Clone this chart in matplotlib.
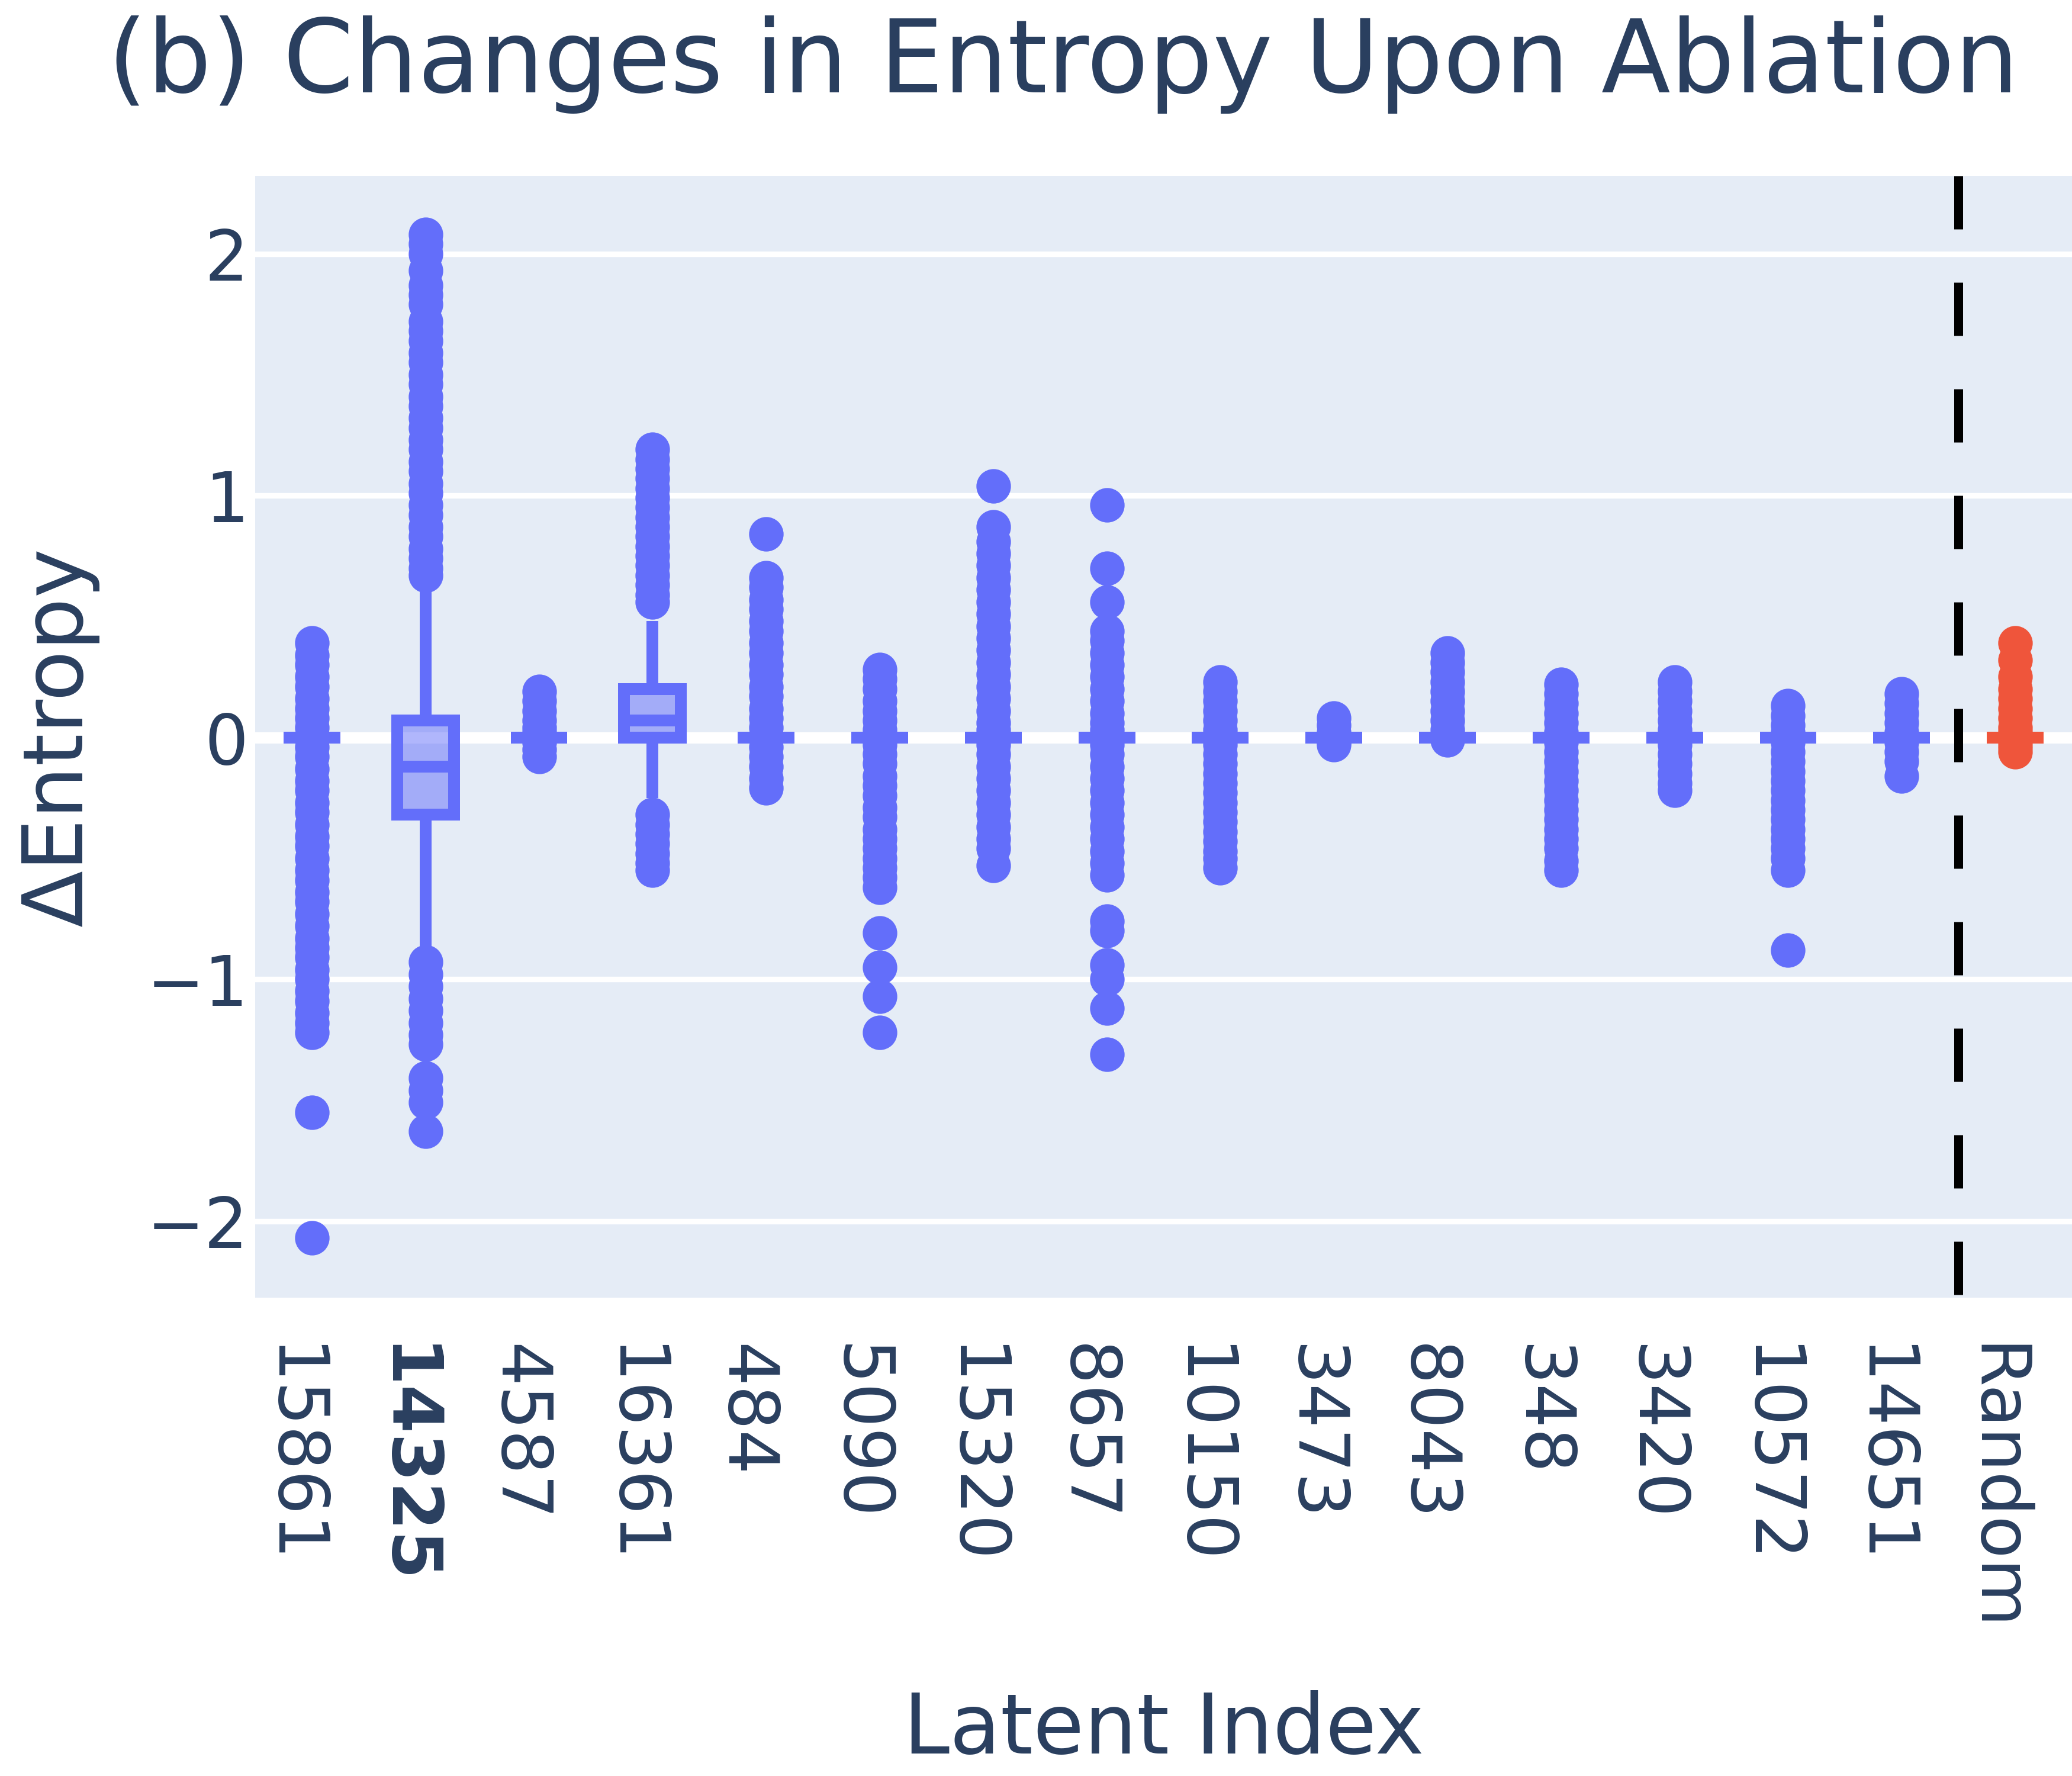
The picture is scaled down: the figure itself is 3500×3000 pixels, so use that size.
import matplotlib
matplotlib.use("Agg")
import matplotlib.pyplot as plt
import matplotlib.transforms as mtransforms
import numpy as np

BLUE, RED = "#636efa", "#ef553b"
BG, INK = "#e5ecf6", "#2a3f5f"
plt.rcParams.update({"font.family": ["DejaVu Sans"], "text.color": INK,
                     "axes.labelcolor": INK, "xtick.color": INK, "ytick.color": INK})

LABELS = ["15861", "14325", "4587", "16361", "484", "5090", "15320", "8657",
          "10150", "3473", "8043", "348", "3420", "10572", "14651", "Random"]

# box summaries (most boxes collapse onto 0)
MED     = [0, -0.12, 0, 0.07, 0, 0, 0, 0, 0, 0, 0, 0, 0, 0, 0, 0]
Q1      = [0, -0.32, 0, 0.00, 0, 0, 0, 0, 0, 0, 0, 0, 0, 0, 0, 0]
Q3      = [0, 0.07, 0, 0.20, 0, 0, 0, 0, 0, 0, 0, 0, 0, 0, 0, 0]
WHIS_LO = [0, -0.88, 0, -0.25, 0, 0, 0, 0, 0, 0, 0, 0, 0, 0, 0, 0]
WHIS_HI = [0, 0.62, 0, 0.48, 0, 0, 0, 0, 0, 0, 0, 0, 0, 0, 0, 0]

# outlier points per latent
OUT_15861 = [0.39, 0.34, 0.30, 0.25, 0.21, 0.16, 0.12, 0.08, 0.04, -0.04, -0.08,
             -0.13, -0.18, -0.22, -0.27, -0.31, -0.36, -0.41, -0.45, -0.50, -0.55,
             -0.59, -0.64, -0.68, -0.73, -0.78, -0.83, -0.87, -0.91, -0.96, -1.00,
             -1.05, -1.09, -1.14, -1.18, -1.22, -1.55, -2.07]
OUT_14325 = [2.08, 2.04, 2.00, 1.93, 1.87, 1.83, 1.79, 1.72, 1.68, 1.64, 1.59,
             1.55, 1.50, 1.46, 1.41, 1.37, 1.32, 1.28, 1.23, 1.19, 1.14, 1.10,
             1.05, 1.01, 0.96, 0.92, 0.87, 0.83, 0.78, 0.74, 0.70, 0.67,
             -0.93, -0.98, -1.03, -1.08, -1.13, -1.18, -1.23, -1.27, -1.41,
             -1.46, -1.51, -1.63]
OUT_4587 = [0.19, 0.15, 0.11, 0.07, 0.04, 0.02, -0.02, -0.05, -0.08]
OUT_16361 = [1.19, 1.15, 1.11, 1.07, 1.03, 0.99, 0.95, 0.91, 0.87, 0.83, 0.79,
             0.75, 0.71, 0.67, 0.63, 0.59, 0.56, -0.32, -0.36, -0.40, -0.44,
             -0.48, -0.52, -0.55]
OUT_484 = [0.84, 0.66, 0.62, 0.57, 0.53, 0.48, 0.44, 0.39, 0.35, 0.30, 0.26,
           0.21, 0.17, 0.12, 0.08, 0.04, -0.04, -0.08, -0.12, -0.17, -0.21]
OUT_5090 = [0.28, 0.24, 0.20, 0.15, 0.11, 0.07, 0.03, -0.03, -0.07, -0.11, -0.16,
            -0.20, -0.24, -0.29, -0.33, -0.38, -0.42, -0.46, -0.50, -0.54, -0.58,
            -0.62, -0.81, -0.95, -1.07, -1.22]
OUT_15320 = [1.04, 0.87, 0.81, 0.76, 0.71, 0.66, 0.61, 0.56, 0.51, 0.46, 0.41,
             0.36, 0.31, 0.26, 0.21, 0.16, 0.11, 0.06, 0.03, -0.03, -0.07, -0.12,
             -0.17, -0.22, -0.27, -0.32, -0.37, -0.42, -0.46, -0.53]
OUT_8657 = [0.96, 0.70, 0.56, 0.44, 0.40, 0.35, 0.30, 0.25, 0.20, 0.15, 0.10,
            0.06, 0.03, -0.03, -0.07, -0.12, -0.17, -0.22, -0.27, -0.32, -0.37,
            -0.42, -0.47, -0.52, -0.57, -0.76, -0.80, -0.94, -1.00, -1.12, -1.31]
OUT_10150 = [0.23, 0.19, 0.15, 0.11, 0.07, 0.03, -0.03, -0.07, -0.11, -0.15,
             -0.19, -0.23, -0.27, -0.31, -0.35, -0.39, -0.43, -0.47, -0.50, -0.54]
OUT_3473 = [0.08, 0.05, 0.02, -0.02, -0.03]
OUT_8043 = [0.35, 0.31, 0.27, 0.23, 0.19, 0.15, 0.11, 0.07, 0.03, -0.01]
OUT_348 = [0.22, 0.18, 0.14, 0.10, 0.06, 0.02, -0.02, -0.06, -0.10, -0.14, -0.18,
           -0.22, -0.26, -0.30, -0.34, -0.38, -0.42, -0.46, -0.51, -0.55]
OUT_3420 = [0.23, 0.19, 0.15, 0.11, 0.07, 0.03, -0.03, -0.07, -0.11, -0.15,
            -0.19, -0.22]
OUT_10572 = [0.13, 0.09, 0.05, 0.02, -0.02, -0.06, -0.10, -0.14, -0.18, -0.22,
             -0.26, -0.30, -0.34, -0.38, -0.42, -0.46, -0.50, -0.55, -0.88]
OUT_14651 = [0.18, 0.14, 0.10, 0.06, 0.02, -0.02, -0.06, -0.10, -0.16]
OUT_RANDOM = [0.39, 0.32, 0.25, 0.20, 0.16, 0.12, 0.08, 0.04, 0.02, -0.02,
              -0.04, -0.06]

FLIERS = [OUT_15861, OUT_14325, OUT_4587, OUT_16361, OUT_484, OUT_5090, OUT_15320,
          OUT_8657, OUT_10150, OUT_3473, OUT_8043, OUT_348, OUT_3420, OUT_10572,
          OUT_14651, OUT_RANDOM]

stats = []
for i, lab in enumerate(LABELS):
    stats.append({"label": lab, "med": MED[i], "q1": Q1[i], "q3": Q3[i],
                  "whislo": WHIS_LO[i], "whishi": WHIS_HI[i],
                  "fliers": np.array(FLIERS[i])})

fig = plt.figure(figsize=(35, 30), dpi=100)
ax = fig.add_axes([431 / 3500, 1 - 2192 / 3000, 1 - 431 / 3500, (2192 - 297) / 3000])
ax.set_facecolor(BG)
for s in ax.spines.values():
    s.set_visible(False)

LW = 14.4
pos = np.arange(len(LABELS))
bp = ax.bxp(stats, positions=pos, widths=0.5, showcaps=False, patch_artist=True,
            boxprops=dict(linewidth=LW, joinstyle="miter"),
            whiskerprops=dict(linewidth=LW, solid_capstyle="butt"),
            medianprops=dict(linewidth=LW, solid_capstyle="butt"),
            flierprops=dict(marker="o", markersize=42, markeredgewidth=0))

for i in range(len(LABELS)):
    c = RED if LABELS[i] == "Random" else BLUE
    bp["boxes"][i].set_facecolor(matplotlib.colors.to_rgba(c, 0.5))
    bp["boxes"][i].set_edgecolor(c)
    bp["medians"][i].set_color(c)
    bp["fliers"][i].set_markerfacecolor(c)
    for w in bp["whiskers"][2 * i:2 * i + 2]:
        w.set_color(c)

ax.set_xlim(-0.5, len(LABELS) - 0.5)
ax.set_ylim(-2.317, 2.322)
ax.set_yticks([-2, -1, 0, 1, 2])
ax.set_axisbelow(True)
ax.grid(axis="y", color="white", linewidth=6.8)
ax.axhline(0, color="white", linewidth=13.7, zorder=0.5)

# separator between latents and the random baseline
ax.plot([len(LABELS) - 1.5] * 2, [1, 0], transform=ax.get_xaxis_transform(),
        color="black", linewidth=10.8, dashes=(6, 6))

ax.set_xticks(pos, LABELS, rotation=-90, fontsize=85)
ax.get_xticklabels()[1].set_fontweight("bold")
ax.tick_params(axis="x", length=0, pad=56)
ax.tick_params(axis="y", length=0, pad=8, labelsize=84)
# nudge the rotated labels a little left of their tick, as in the original
shift = mtransforms.ScaledTranslation(-26 / 72, 0, fig.dpi_scale_trans)
for t in ax.get_xticklabels():
    t.set_transform(t.get_transform() + shift)

ax.set_xlabel("Latent Index", fontsize=101)
ax.xaxis.set_label_coords(0.5, -0.386)
ax.xaxis.label.set_va("center")
ax.set_ylabel("\u0394Entropy", fontsize=101)
ax.yaxis.set_label_coords(-0.108, 0.5)
ax.yaxis.label.set_va("center")
ax.yaxis.label.set_ha("center")

fig.text(0.513, 1 - 156 / 3000, "(b) Changes in Entropy Upon Ablation",
         fontsize=123, ha="center", va="baseline", color=INK)

fig.savefig("out.png", dpi=100, facecolor="white")
